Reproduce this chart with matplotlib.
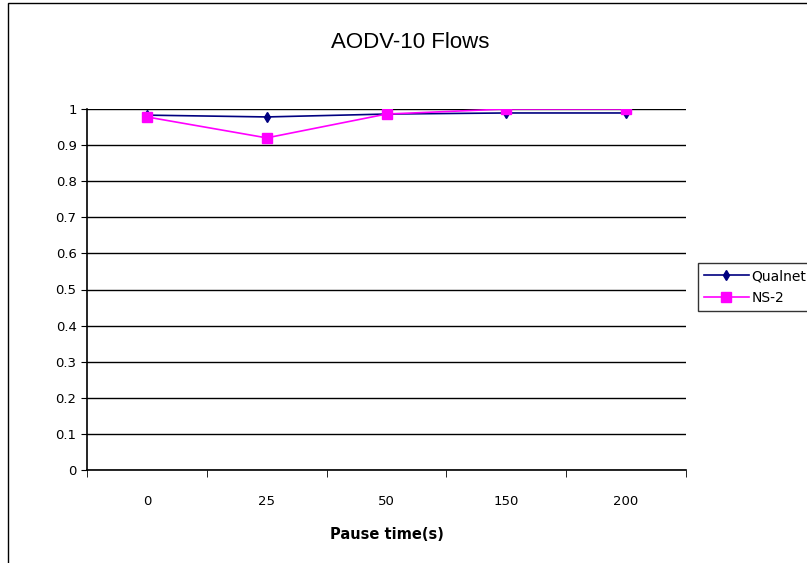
import matplotlib.pyplot as plt
from matplotlib.patches import Rectangle
from matplotlib.ticker import MultipleLocator

pause_times = ["0", "25", "50", "150", "200"]
qualnet = [0.983, 0.978, 0.986, 0.989, 0.989]
ns2 = [0.978, 0.920, 0.986, 1.0, 1.0]

fig = plt.figure(figsize=(8.07, 5.63), dpi=100)
# outer chart border
fig.patches.append(Rectangle((8 / 807, -0.01), 1.0, 1 - 3 / 563 + 0.01,
                             transform=fig.transFigure, fill=False,
                             edgecolor="black", linewidth=1.0))

ax = fig.add_axes([87 / 807, 1 - 470 / 563, (686 - 87) / 807, (470 - 109) / 563])
x = list(range(len(pause_times)))
ax.plot(x, qualnet, color="#000080", marker="d", markersize=5.5, linewidth=1.2,
        label="Qualnet", zorder=3)
ax.plot(x, ns2, color="#ff00ff", marker="s", markersize=6.5, linewidth=1.2,
        label="NS-2", zorder=4)

ax.set_xlim(-0.5, len(pause_times) - 0.5)
ax.set_ylim(0, 1)
ax.yaxis.set_major_locator(MultipleLocator(0.1))
ax.set_yticklabels([f"{v:g}" for v in ax.get_yticks()])
ax.grid(axis="y", color="black", linewidth=1.0)
ax.set_axisbelow(True)

ax.set_xticks(x)
ax.set_xticklabels(pause_times)
ax.tick_params(axis="x", length=0, pad=18, labelsize=9.5)
ax.set_xticks([i - 0.5 for i in range(len(pause_times) + 1)], minor=True)
ax.tick_params(axis="x", which="minor", length=5, direction="out")
ax.tick_params(axis="y", length=4, direction="out", labelsize=9.5)

for side in ("top", "right"):
    ax.spines[side].set_visible(False)
ax.spines["left"].set_linewidth(1.2)
ax.spines["bottom"].set_linewidth(1.2)

ax.set_xlabel("Pause time(s)", fontsize=10.5, fontweight="bold", labelpad=14)
fig.text(410 / 807, 1 - 42 / 563, "AODV-10 Flows", ha="center", va="center",
         fontsize=16, family="Liberation Sans")

ax.legend(loc="center left", bbox_to_anchor=(698 / 807, 1 - 287 / 563),
          bbox_transform=fig.transFigure, frameon=True, fancybox=False,
          edgecolor="black", fontsize=10, handlelength=3.2, borderpad=0.45,
          labelspacing=0.55, handletextpad=0.2, borderaxespad=0)

fig.savefig("out.png", dpi=100)
